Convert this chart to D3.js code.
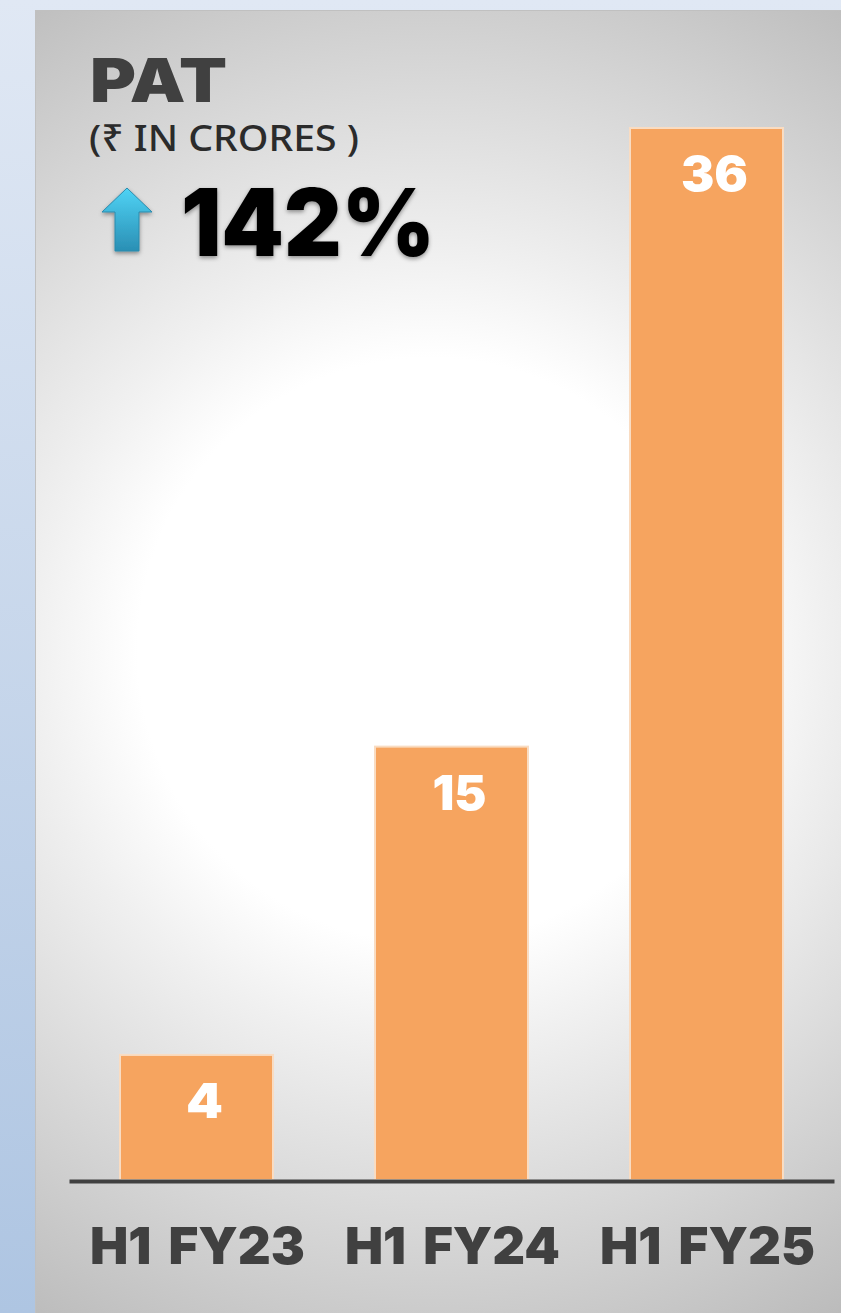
<!DOCTYPE html>
<html>
<head>
<meta charset="utf-8">
<script src="https://cdnjs.cloudflare.com/ajax/libs/d3/7.8.5/d3.min.js"></script>
<style>
  html, body { margin: 0; padding: 0; background: #dfe7f3; }
  svg { display: block; }
  text { font-family: Inter, "Noto Sans", sans-serif; }
</style>
</head>
<body>
<svg id="chart" width="841" height="1313"></svg>
<script>
const periods = ['H1 FY23', 'H1 FY24', 'H1 FY25'];
const pat = [4.28, 14.83, 36];
const patLabels = ['4', '15', '36'];
const labelWidths = [37, 54, 67];

const svg = d3.select('#chart');
const defs = svg.append('defs');

// page and panel backgrounds
const pageGrad = defs.append('linearGradient').attr('id', 'pageGrad')
  .attr('x1', 0).attr('y1', 0).attr('x2', 0).attr('y2', 1);
pageGrad.append('stop').attr('offset', 0).attr('stop-color', '#e0e8f4');
pageGrad.append('stop').attr('offset', 1).attr('stop-color', '#aec5e2');

const panelGrad = defs.append('radialGradient').attr('id', 'panelGrad')
  .attr('gradientUnits', 'userSpaceOnUse')
  .attr('cx', 430).attr('cy', 650).attr('r', 790);
panelGrad.append('stop').attr('offset', 0).attr('stop-color', '#ffffff');
panelGrad.append('stop').attr('offset', 0.37).attr('stop-color', '#ffffff');
panelGrad.append('stop').attr('offset', 0.5).attr('stop-color', '#f0f0f0');
panelGrad.append('stop').attr('offset', 1).attr('stop-color', '#bababa');

const arrowGrad = defs.append('linearGradient').attr('id', 'arrowGrad')
  .attr('x1', 0).attr('y1', 0).attr('x2', 0).attr('y2', 1);
arrowGrad.append('stop').attr('offset', 0).attr('stop-color', '#4fd3f5');
arrowGrad.append('stop').attr('offset', 1).attr('stop-color', '#2a8fb4');

const shadow = defs.append('filter').attr('id', 'shadow')
  .attr('x', '-10%').attr('y', '-10%').attr('width', '120%').attr('height', '130%');
shadow.append('feDropShadow').attr('dx', 0).attr('dy', 2).attr('stdDeviation', 2)
  .attr('flood-color', '#000').attr('flood-opacity', 0.4);

svg.append('rect').attr('width', 841).attr('height', 1313).attr('fill', 'url(#pageGrad)');
svg.append('rect').attr('x', 35).attr('y', 10).attr('width', 806).attr('height', 1303)
  .attr('fill', 'url(#panelGrad)');
svg.append('path').attr('d', 'M35.5,1313V10.5H841').attr('fill', 'none').attr('stroke', '#c0c0c0');

// scales
const x = d3.scaleBand().domain(periods).range([69, 834]).paddingInner(0.4).paddingOuter(0.2);
const y = d3.scaleLinear().domain([0, 36]).range([1180, 128]);

// bars
svg.selectAll('.bar').data(pat).enter().append('rect')
  .attr('class', 'bar')
  .attr('x', (d, i) => x(periods[i]))
  .attr('y', d => y(d))
  .attr('width', x.bandwidth())
  .attr('height', d => y(0) - y(d))
  .attr('fill', '#f6a45f')
  .attr('stroke', '#f9dcc2')
  .attr('stroke-width', 2);

// value labels
svg.selectAll('.val').data(pat).enter().append('text')
  .attr('class', 'val')
  .attr('x', (d, i) => x(periods[i]) + x.bandwidth() / 2 + 8)
  .attr('y', d => y(d) + 63)
  .attr('text-anchor', 'middle')
  .attr('font-size', 48)
  .attr('font-weight', 900)
  .attr('fill', '#fff')
  .attr('textLength', (d, i) => labelWidths[i])
  .attr('lengthAdjust', 'spacingAndGlyphs')
  .text((d, i) => patLabels[i]);

// x axis
const axis = svg.append('g')
  .attr('transform', 'translate(1,1181)')
  .call(d3.axisBottom(x).tickSize(0).tickPadding(47));
axis.select('.domain').attr('transform', 'translate(-1,0)').attr('stroke', '#404040').attr('stroke-width', 4);
axis.selectAll('text')
  .attr('fill', '#404040')
  .style('font-family', 'Inter, "Noto Sans", sans-serif')
  .style('word-spacing', '7px')
  .attr('font-size', 51)
  .attr('font-weight', 900)
  .attr('textLength', 215)
  .attr('lengthAdjust', 'spacingAndGlyphs');

// titles
svg.append('text').attr('x', 90).attr('y', 102)
  .attr('font-size', 60).attr('font-weight', 900).attr('fill', '#404040')
  .attr('textLength', 137).attr('lengthAdjust', 'spacingAndGlyphs')
  .text('PAT');
svg.append('text').attr('x', 89).attr('y', 151)
  .style('font-family', '"Noto Sans", sans-serif')
  .attr('font-size', 37).attr('font-weight', 500).attr('fill', '#2b2b2b')
  .attr('textLength', 270).attr('lengthAdjust', 'spacingAndGlyphs')
  .text('(₹ IN CRORES )');
svg.append('text').attr('x', 181).attr('y', 256)
  .attr('font-size', 93).attr('font-weight', 900).attr('fill', '#000')
  .attr('filter', 'url(#shadow)')
  .attr('textLength', 254).attr('lengthAdjust', 'spacingAndGlyphs')
  .text('142%');

// up arrow
svg.append('path')
  .attr('d', 'M127,188L152,212H139V251H115V212H102Z')
  .attr('fill', 'url(#arrowGrad)')
  .attr('stroke', '#2a8aac')
  .attr('filter', 'url(#shadow)');
</script>
</body>
</html>
